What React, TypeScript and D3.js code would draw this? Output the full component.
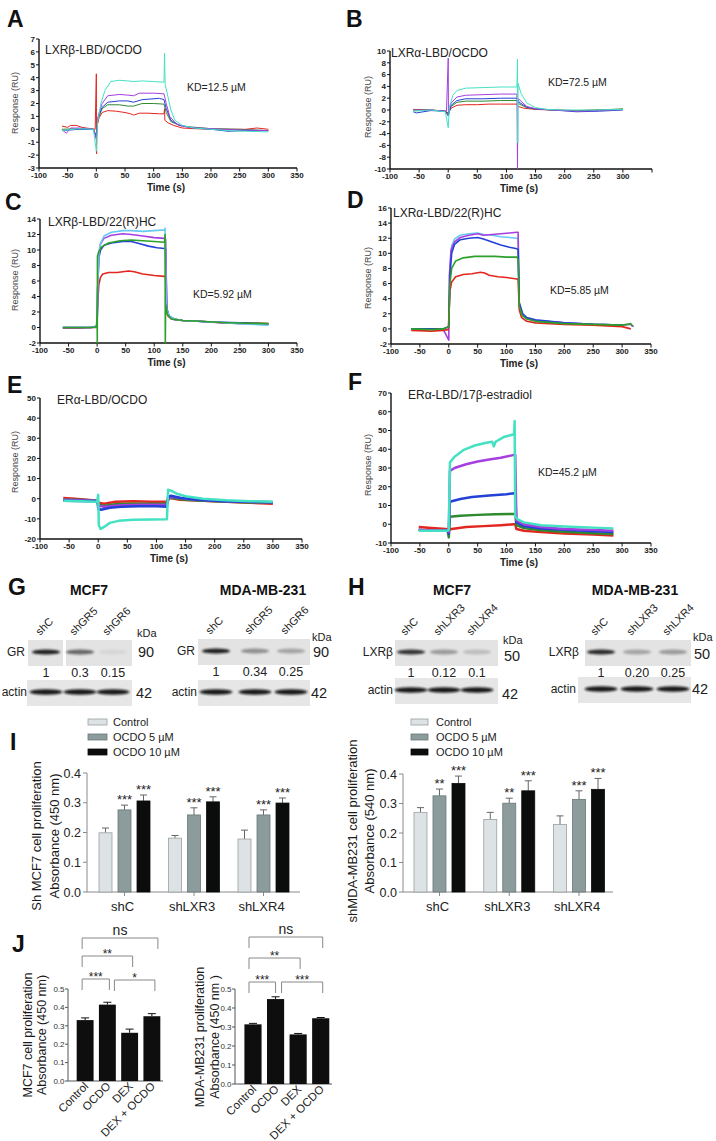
import React from 'react';
import * as d3 from 'd3';

type Pt = [number, number];

// ---------------- SPR sensorgram data (time s, response RU) ----------------
const TIME_TICKS = [-100, -50, 0, 50, 100, 150, 200, 250, 300, 350];

const A_RED: Pt[] = [[-60,0.25],[-50,0.15],[-45,0.3],[-35,0.3],[-25,0.15],[-10,0.05],[-2,0],[0,4.3],[0.4,-1.9],[1,0.3],[5,0.9],[10,1.3],[20,1.45],[35,1.4],[50,1.3],[60,1.2],[65,1.1],[75,1.25],[90,1.25],[110,1.2],[118,1.2],[119,1.6],[119.5,0.7],[125,0.5],[135,0.3],[150,0.1],[170,0.05],[200,0],[230,0],[260,0],[280,0.1],[300,0]];
const A_GREEN: Pt[] = [[-60,0],[-30,0.05],[-5,0],[0,-0.5],[3,0.8],[10,1.6],[20,1.9],[40,1.9],[55,1.8],[65,1.8],[80,2.0],[100,2.0],[118,1.95],[122,1.3],[130,0.6],[145,0.3],[160,0.2],[200,0.05],[250,0],[300,-0.1]];
const A_BLUE: Pt[] = [[-60,-0.1],[-30,0],[-5,0],[0,-0.6],[3,0.9],[10,1.7],[20,2.1],[40,2.2],[55,2.2],[65,2.1],[80,2.3],[110,2.4],[118,2.3],[122,1.6],[130,0.7],[145,0.3],[170,0.1],[200,0],[230,-0.15],[260,-0.1],[300,-0.1]];
const A_PURPLE: Pt[] = [[-60,-0.05],[-52,-0.3],[-45,0.1],[-30,0.1],[-5,0],[0,-0.8],[3,1.0],[10,2.0],[20,2.6],[40,2.7],[55,2.65],[65,2.6],[75,2.8],[100,2.8],[118,2.75],[122,2.0],[128,1.0],[140,0.4],[160,0.15],[200,0.05],[250,-0.05],[300,-0.1]];
const A_CYAN: Pt[] = [[-60,-0.1],[-30,0.05],[-5,0],[0,-1.7],[2,0.5],[8,2.0],[15,3.0],[25,3.7],[40,3.8],[55,3.75],[65,3.7],[80,3.75],[100,3.7],[118,3.65],[119,5.9],[120,3.5],[125,2.5],[130,1.5],[137,0.7],[150,0.3],[170,0.1],[200,0],[230,-0.1],[260,-0.15],[300,-0.2]];

const B_RED: Pt[] = [[-60,0.1],[-30,0],[-5,-0.2],[0,-0.5],[5,0.3],[15,0.8],[30,0.9],[50,0.9],[70,1.0],[90,1.0],[118,1.0],[120,0.6],[130,0.3],[150,0.1],[180,0],[220,-0.1],[260,0],[300,0.1]];
const B_GREEN: Pt[] = [[-60,0],[-30,0],[-5,-0.2],[0,-0.8],[5,0.6],[15,1.3],[30,1.5],[60,1.5],[90,1.6],[118,1.6],[122,1.0],[135,0.4],[150,0.15],[180,0],[220,-0.1],[260,0],[300,0.2]];
const B_BLUE: Pt[] = [[-60,-0.3],[-55,-0.5],[-30,-0.1],[-5,-0.2],[0,-1.0],[5,0.8],[15,1.6],[30,1.9],[60,1.9],[90,2.0],[118,2.0],[122,1.3],[135,0.5],[150,0.2],[180,0],[220,-0.3],[260,-0.2],[300,0]];
const B_PURPLE: Pt[] = [[-60,0],[-30,0],[-3,-0.2],[0,8.8],[0.4,-0.5],[5,1.2],[15,2.2],[30,2.5],[60,2.6],[90,2.7],[118,2.7],[119,-10],[119.6,2.0],[125,1.5],[135,0.6],[150,0.2],[180,0],[220,-0.2],[260,-0.1],[300,0.1]];
const B_CYAN: Pt[] = [[-60,-0.2],[-30,0],[-5,-0.3],[0,-3.0],[2,0.5],[8,2.5],[15,3.3],[30,3.7],[60,3.8],[90,3.9],[118,3.9],[119,8.6],[119.4,-5.6],[120,4.5],[125,2.8],[135,1.2],[150,0.4],[170,0.1],[200,0],[250,0],[300,0.1]];

const C_RED: Pt[] = [[-60,-0.1],[-30,-0.1],[-10,0],[-1,0],[1,3],[3,5.5],[6,6.5],[10,6.9],[20,7.1],[35,7.1],[55,7.3],[65,7.2],[80,6.9],[100,6.7],[118,6.6],[120,6.5],[121,2.5],[124,1.5],[130,1.1],[150,0.9],[180,0.8],[220,0.6],[260,0.6],[300,0.5]];
const C_BLUE: Pt[] = [[-60,0],[-10,0],[0,0.2],[1,5],[3,9],[6,10],[12,10.6],[25,10.9],[45,11.1],[60,11.1],[75,10.8],[90,10.5],[105,10.3],[118,10.2],[120,10.1],[122,2.5],[126,1.5],[135,1.1],[150,0.9],[200,0.7],[250,0.6],[300,0.45]];
const C_PURPLE: Pt[] = [[-60,0],[-10,0],[0,0.2],[1,5],[3,9.5],[6,10.8],[12,11.5],[25,11.9],[45,12.1],[60,12.0],[80,11.8],[100,11.6],[118,11.5],[120,11.4],[122,2.3],[126,1.4],[135,1.0],[150,0.9],[200,0.7],[250,0.5],[300,0.4]];
const C_SKY: Pt[] = [[-60,0],[-10,0],[0,0.2],[1,5],[3,9.5],[6,10.8],[12,11.8],[25,12.3],[45,12.5],[60,12.5],[80,12.4],[100,12.5],[118,12.6],[119,12.8],[121,2.5],[126,1.5],[135,1.1],[150,0.9],[200,0.7],[250,0.5],[300,0.3]];
const C_GREEN: Pt[] = [[-60,0],[-30,0],[-10,0],[-1,0.1],[0,1.8],[0.3,-2],[0.6,9.2],[3,9.8],[8,10.4],[20,10.9],[40,11.2],[60,11.3],[80,11.2],[100,11.1],[118,11.0],[119,12.0],[119.4,-2],[120,3],[123,1.7],[130,1.1],[150,0.9],[180,0.8],[220,0.65],[260,0.55],[300,0.5]];

const D_RED: Pt[] = [[-65,-0.2],[-30,-0.3],[-10,-0.2],[-1,-0.1],[0,1.2],[2,5],[5,6.2],[12,6.9],[25,7.2],[40,7.3],[55,7.5],[62,7.4],[70,7.1],[85,6.9],[100,6.8],[118,6.6],[120,6.5],[122,2.5],[126,1.5],[135,1.0],[150,0.8],[200,0.6],[250,0.5],[300,0.3],[310,0.1],[315,0]];
const D_SKY: Pt[] = [[-65,0],[-10,0],[0,0.3],[2,8],[5,11],[10,11.9],[20,12.4],[35,12.6],[50,12.7],[60,12.5],[75,12.4],[90,12.2],[105,12.1],[118,12.0],[120,11.9],[122,3],[128,1.9],[135,1.4],[150,1.1],[200,0.8],[250,0.6],[300,0.5]];
const D_BLUE: Pt[] = [[-65,0],[-10,0],[0,0.3],[2,7],[5,10],[10,11.2],[20,11.8],[35,12.0],[50,12.1],[60,11.9],[75,11.5],[90,11.1],[105,10.8],[118,10.6],[120,10.5],[122,3.5],[128,2.0],[135,1.5],[150,1.2],[200,0.8],[250,0.6],[300,0.5]];
const D_PURPLE: Pt[] = [[-65,0],[-10,0],[0,-1.5],[1,7],[4,10.5],[10,11.5],[20,12.1],[35,12.4],[50,12.6],[60,12.4],[75,12.5],[90,12.6],[105,12.7],[118,12.8],[120,12.8],[122,3],[128,1.8],[135,1.4],[150,1.1],[200,0.8],[250,0.6],[300,0.5],[310,0.6],[315,0.6],[320,0.3]];
const D_GREEN: Pt[] = [[-65,0],[-30,-0.1],[-10,0],[0,0.3],[2,6],[5,8],[12,9.0],[25,9.4],[45,9.6],[60,9.6],[80,9.6],[100,9.5],[118,9.5],[120,9.2],[122,3],[127,1.8],[135,1.3],[150,1.0],[200,0.7],[250,0.6],[300,0.5],[310,0.6],[315,0.7],[318,0.3]];

const E_RED: Pt[] = [[-60,0.3],[-40,0],[-20,-0.5],[-1,-1],[0,-2],[10,-2.5],[30,-1.5],[60,-1.3],[90,-1.5],[118,-1.5],[120,-1],[122,0.5],[140,-0.5],[180,-1],[220,-1.5],[260,-2],[300,-2.5]];
const E_GREEN: Pt[] = [[-60,-0.5],[-30,-0.5],[-1,-1],[0,-3],[10,-3.5],[30,-2.8],[60,-2.5],[118,-2.5],[120,0],[125,0.5],[150,-0.5],[200,-1.3],[250,-1.8],[300,-2]];
const E_PURPLE: Pt[] = [[-60,-0.5],[-1,-1],[0,-3.5],[10,-4],[40,-3.2],[80,-3],[118,-3],[120,0],[125,1],[150,0],[200,-1],[250,-1.5],[300,-1.8]];
const E_BLUE: Pt[] = [[-60,-1],[-1,-1.2],[0,-5],[5,-5.5],[20,-4.5],[40,-4],[70,-3.8],[100,-3.8],[118,-4],[120,1],[125,1.5],[140,0.5],[170,-0.5],[220,-1.2],[300,-1.8]];
const E_CYAN: Pt[] = [[-60,-1],[-30,-1.2],[-2,-1.5],[0,2],[1,-13],[4,-15],[10,-14],[20,-12],[35,-11],[60,-10.5],[90,-10.3],[118,-10.2],[120,4.5],[125,4],[135,2.5],[150,1.2],[180,0],[220,-0.8],[260,-1.2],[300,-1.5]];

const F_RED: Pt[] = [[-52,-1.5],[-30,-2],[-5,-2.5],[0,-3],[5,-2.5],[30,-1.5],[60,-1],[90,-0.5],[113,0],[115,0],[117,-2.5],[130,-3.5],[160,-4.2],[200,-5],[250,-5.5],[285,-6]];
const F_GREEN: Pt[] = [[-52,-3],[-30,-3.5],[-2,-3.5],[0,-7],[2,4],[20,4.5],[50,5],[80,5.3],[113,5.5],[115,5.5],[117,-0.5],[130,-2],[160,-3.2],[200,-4],[250,-4.8],[285,-5.2]];
const F_BLUE: Pt[] = [[-52,-3],[-30,-3.5],[-2,-3.5],[0,-5],[2,12],[20,13.5],[40,14.5],[70,15.3],[100,16],[113,16.5],[115,16.5],[117,1],[130,-1],[160,-2.3],[200,-3],[250,-3.8],[285,-4.2]];
const F_PURPLE: Pt[] = [[-52,-3],[-2,-3.5],[0,-4],[2,28.5],[10,30],[30,32],[50,33.5],[70,34.5],[90,35.5],[113,37],[115,37],[117,2],[130,0],[160,-1.5],[200,-2.5],[250,-3],[285,-3.5]];
const F_CYAN: Pt[] = [[-52,-3.5],[-30,-3.5],[-2,-3.5],[0,-3],[2,33],[10,36],[25,39.5],[45,42],[65,43.5],[75,44],[78,41.5],[81,44],[95,46.5],[113,48],[114,55],[115,4],[120,2.5],[130,1],[160,-0.5],[200,-1.2],[250,-1.8],[285,-2.2]];

// ---------------- Western blot data ----------------
const G_LANES = ['shC', 'shGR5', 'shGR6'];
const H_LANES = ['shC', 'shLXR3', 'shLXR4'];
const G_MCF7_GR = ['1', '0.3', '0.15'];
const G_MCF7_GR_BAND = [0.95, 0.6, 0.06];
const G_MDA_GR = ['1', '0.34', '0.25'];
const G_MDA_GR_BAND = [0.95, 0.4, 0.3];
const H_MCF7_LXR = ['1', '0.12', '0.1'];
const H_MCF7_LXR_BAND = [0.85, 0.35, 0.18];
const H_MDA_LXR = ['1', '0.20', '0.25'];
const H_MDA_LXR_BAND = [0.9, 0.3, 0.35];
const ACTIN_BAND = [0.95, 0.95, 0.95];

// ---------------- Proliferation bar data ----------------
const I_GROUPS = ['shC', 'shLXR3', 'shLXR4'];
const I_SERIES = ['Control', 'OCDO 5 µM', 'OCDO 10 µM'];
const I_MCF7_CONTROL = [0.199, 0.181, 0.178];
const I_MCF7_CONTROL_ERR = [0.016, 0.009, 0.030];
const I_MCF7_OCDO5 = [0.276, 0.259, 0.259];
const I_MCF7_OCDO5_ERR = [0.016, 0.024, 0.017];
const I_MCF7_OCDO10 = [0.306, 0.303, 0.299];
const I_MCF7_OCDO10_ERR = [0.020, 0.017, 0.017];
const I_MCF7_STARS5 = ['***', '***', '***'];
const I_MCF7_STARS10 = ['***', '***', '***'];
const I_MDA_CONTROL = [0.270, 0.246, 0.229];
const I_MDA_CONTROL_ERR = [0.016, 0.024, 0.029];
const I_MDA_OCDO5 = [0.326, 0.301, 0.314];
const I_MDA_OCDO5_ERR = [0.023, 0.017, 0.029];
const I_MDA_OCDO10 = [0.368, 0.343, 0.348];
const I_MDA_OCDO10_ERR = [0.025, 0.034, 0.037];
const I_MDA_STARS5 = ['**', '**', '***'];
const I_MDA_STARS10 = ['***', '***', '***'];
const I_TICKS = [0, 0.1, 0.2, 0.3, 0.4];

const J_GROUPS = ['Control', 'OCDO', 'DEX', 'DEX + OCDO'];
const J_MCF7 = [0.331, 0.415, 0.262, 0.352];
const J_MCF7_ERR = [0.012, 0.013, 0.020, 0.014];
const J_MDA = [0.314, 0.447, 0.261, 0.346];
const J_MDA_ERR = [0.005, 0.012, 0.005, 0.004];
const J_PAIRS: [number, number][] = [[0, 3], [0, 2], [0, 1], [1, 3]];
const J_MCF7_SIG = ['ns', '**', '***', '*'];
const J_MDA_SIG = ['ns', '**', '***', '***'];
const J_TICKS = [0, 0.1, 0.2, 0.3, 0.4, 0.5];

// ---------------- styling ----------------
const FONT = "'Liberation Sans', Arial, Helvetica, sans-serif";
const COL = {
  red: '#e3261f', green: '#2e8a2e', brightGreen: '#2ba12b', blue: '#2341d6', purple: '#a63fe0',
  cyan: '#44e2c2', sky: '#68c9f1',
};

interface Series { data: Pt[]; color: string; }
interface SprCfg {
  letter: string; lx: number; ly: number;
  x0: number; x1: number; yTop: number; yBottom: number; yMin: number; yMax: number;
  yTicks: number[]; xLabels: number[]; minor: boolean;
  title: string; tx: number; ty: number;
  kd?: string; kx?: number; ky?: number;
  rx: number; ry: number; sw: number; series: Series[];
}

function SprPanel({ c }: { c: SprCfg }) {
  const x = d3.scaleLinear().domain([-100, 350]).range([c.x0, c.x1]);
  const y = d3.scaleLinear().domain([c.yMin, c.yMax]).range([c.yBottom, c.yTop]);
  const line = d3.line<Pt>().x(d => x(d[0])).y(d => y(d[1]));
  const minorTicks = c.minor ? d3.range(-100, 351, 10) : [];
  return (
    <g fontFamily={FONT}>
      <text x={c.lx} y={c.ly} fontSize={23} fontWeight="bold" fill="#111">{c.letter}</text>
      <text x={c.tx} y={c.ty} fontSize={12} fill="#222">{c.title}</text>
      {c.kd && <text x={c.kx} y={c.ky} fontSize={10.5} fill="#222">{c.kd}</text>}
      <text transform={`translate(${c.rx},${c.ry}) rotate(-90)`} textAnchor="middle" fontSize={9} fill="#444">Response (RU)</text>
      <text x={(c.x0 + c.x1) / 2 - 2} y={c.yBottom + 23} textAnchor="middle" fontSize={10} fontWeight="bold" fill="#222">Time (s)</text>
      <line x1={c.x0} x2={c.x1} y1={c.yBottom} y2={c.yBottom} stroke="#111" strokeWidth={1.4} />
      <line x1={c.x0} x2={c.x0} y1={c.yTop} y2={c.yBottom} stroke="#111" strokeWidth={1.4} />
      {minorTicks.map(t => (
        <line key={'m' + t} x1={x(t)} x2={x(t)} y1={c.yBottom} y2={c.yBottom + 2} stroke="#111" strokeWidth={0.8} />
      ))}
      {TIME_TICKS.map(t => (
        <line key={'t' + t} x1={x(t)} x2={x(t)} y1={c.yBottom} y2={c.yBottom + 3.5} stroke="#111" strokeWidth={1} />
      ))}
      {c.xLabels.map(t => (
        <text key={'l' + t} x={x(t)} y={c.yBottom + 10} textAnchor="middle" fontSize={8} fontWeight="bold" fill="#222">{t}</text>
      ))}
      {c.yTicks.map(t => (
        <g key={'y' + t}>
          <line x1={c.x0 - 3} x2={c.x0} y1={y(t)} y2={y(t)} stroke="#111" strokeWidth={1} />
          <text x={c.x0 - 4} y={y(t)} dy="0.35em" textAnchor="end" fontSize={8} fontWeight="bold" fill="#222">{t}</text>
        </g>
      ))}
      {c.series.map((s, i) => (
        <path key={i} d={line(s.data) || ''} fill="none" stroke={s.color} strokeWidth={c.sw} strokeLinejoin="round" />
      ))}
    </g>
  );
}

const SPR_PANELS: SprCfg[] = [
  { letter: 'A', lx: 7, ly: 27, x0: 39, x1: 297, yTop: 39, yBottom: 168, yMin: -3, yMax: 7,
    yTicks: d3.range(-3, 8, 1), xLabels: TIME_TICKS, minor: false,
    title: 'LXRβ-LBD/OCDO', tx: 45, ty: 54, kd: 'KD=12.5 µM', kx: 187, ky: 91, rx: 18, ry: 103, sw: 1,
    series: [{ data: A_RED, color: COL.red }, { data: A_GREEN, color: COL.green }, { data: A_BLUE, color: COL.blue }, { data: A_PURPLE, color: COL.purple }, { data: A_CYAN, color: COL.cyan }] },
  { letter: 'B', lx: 346, ly: 27, x0: 390, x1: 652, yTop: 51, yBottom: 169, yMin: -10, yMax: 10,
    yTicks: d3.range(-10, 11, 2), xLabels: TIME_TICKS.slice(0, 9), minor: false,
    title: 'LXRα-LBD/OCDO', tx: 391, ty: 57, kd: 'KD=72.5 µM', kx: 548, ky: 86, rx: 371, ry: 107, sw: 1,
    series: [{ data: B_RED, color: COL.red }, { data: B_GREEN, color: COL.green }, { data: B_BLUE, color: COL.blue }, { data: B_PURPLE, color: COL.purple }, { data: B_CYAN, color: COL.cyan }] },
  { letter: 'C', lx: 5, ly: 210, x0: 40, x1: 297, yTop: 219, yBottom: 343, yMin: -2, yMax: 14,
    yTicks: d3.range(-2, 15, 2), xLabels: TIME_TICKS, minor: false,
    title: 'LXRβ-LBD/22(R)HC', tx: 48, ty: 226, kd: 'KD=5.92 µM', kx: 193, ky: 298, rx: 18, ry: 280, sw: 1.6,
    series: [{ data: C_RED, color: COL.red }, { data: C_BLUE, color: COL.blue }, { data: C_PURPLE, color: COL.purple }, { data: C_SKY, color: COL.sky }, { data: C_GREEN, color: COL.brightGreen }] },
  { letter: 'D', lx: 347, ly: 208, x0: 391, x1: 651, yTop: 208, yBottom: 344, yMin: -2, yMax: 16,
    yTicks: d3.range(-2, 17, 2), xLabels: TIME_TICKS, minor: false,
    title: 'LXRα-LBD/22(R)HC', tx: 393, ty: 217, kd: 'KD=5.85 µM', kx: 550, ky: 294, rx: 371, ry: 278, sw: 1.6,
    series: [{ data: D_SKY, color: COL.sky }, { data: D_PURPLE, color: COL.purple }, { data: D_BLUE, color: COL.blue }, { data: D_RED, color: COL.red }, { data: D_GREEN, color: COL.brightGreen }] },
  { letter: 'E', lx: 7, ly: 393, x0: 40, x1: 302, yTop: 398, yBottom: 539, yMin: -20, yMax: 50,
    yTicks: d3.range(-20, 51, 10), xLabels: TIME_TICKS, minor: false,
    title: 'ERα-LBD/OCDO', tx: 57, ty: 404, rx: 18, ry: 462, sw: 2.5,
    series: [{ data: E_RED, color: COL.red }, { data: E_GREEN, color: COL.green }, { data: E_PURPLE, color: COL.purple }, { data: E_BLUE, color: COL.blue }, { data: E_CYAN, color: COL.cyan }] },
  { letter: 'F', lx: 348, ly: 390, x0: 391, x1: 651, yTop: 393, yBottom: 543, yMin: -10, yMax: 70,
    yTicks: d3.range(-10, 71, 10), xLabels: TIME_TICKS, minor: false,
    title: 'ERα-LBD/17β-estradiol', tx: 408, ty: 399, kd: 'KD=45.2 µM', kx: 538, ky: 476, rx: 371, ry: 465, sw: 2.5,
    series: [{ data: F_RED, color: COL.red }, { data: F_GREEN, color: COL.green }, { data: F_BLUE, color: COL.blue }, { data: F_PURPLE, color: COL.purple }, { data: F_CYAN, color: COL.cyan }] },
];

// ---------------- Blot ----------------
interface BlotCfg {
  title: string; titleX: number; lanes: string[]; laneX: number[];
  protein: string; proteinRight: number; values: string[]; bands: number[];
  boxX: number; boxW: number; topY: number; actinX: number; actinW: number; actinY: number;
  kdaX: number; kdaY: number; mw: string; mwY: number; actinMwY: number; actinRight: number; split?: number;
}

function Blot({ b }: { b: BlotCfg }) {
  return (
    <g fontFamily={FONT}>
      <text x={b.titleX} y={595} fontSize={14} fontWeight="bold" textAnchor="middle" fill="#111">{b.title}</text>
      {b.lanes.map((l, i) => (
        <text key={l} transform={`translate(${b.laneX[i] - 6},${b.topY - 4}) rotate(-45)`} fontSize={11} fill="#222">{l}</text>
      ))}
      <rect x={b.boxX} y={b.topY} width={b.boxW} height={26} fill="#e3e3e3" />
      {b.split !== undefined && <rect x={b.split} y={b.topY} width={3} height={26} fill="#ffffff" />}
      {b.bands.map((v, i) => (
        <ellipse key={i} cx={b.laneX[i]} cy={b.topY + 12} rx={14} ry={2.6} fill="#151515" opacity={v} filter="url(#blur)" />
      ))}
      <text x={b.proteinRight} y={b.topY + 16} textAnchor="end" fontSize={12} fill="#222">{b.protein}</text>
      <text x={b.kdaX} y={b.kdaY} fontSize={11} fill="#222">kDa</text>
      <text x={b.kdaX + 1} y={b.mwY} fontSize={14.5} fill="#222">{b.mw}</text>
      {b.values.map((v, i) => (
        <text key={'v' + i} x={b.laneX[i]} y={b.topY + 37} textAnchor="middle" fontSize={12.5} fill="#222">{v}</text>
      ))}
      <rect x={b.actinX} y={b.actinY} width={b.actinW} height={26} fill="#e6e6e6" />
      {ACTIN_BAND.map((v, i) => (
        <ellipse key={'a' + i} cx={b.laneX[i]} cy={b.actinY + 12} rx={16.5} ry={2.8} fill="#111" opacity={v} filter="url(#blur)" />
      ))}
      <text x={b.actinRight} y={b.actinY + 16} textAnchor="end" fontSize={12} fill="#222">actin</text>
      <text x={b.kdaX - 1} y={b.actinMwY} fontSize={14.5} fill="#222">42</text>
    </g>
  );
}

const BLOTS: BlotCfg[] = [
  { title: 'MCF7', titleX: 89, lanes: G_LANES, laneX: [46, 80, 113], protein: 'GR', proteinRight: 25, values: G_MCF7_GR, bands: G_MCF7_GR_BAND,
    boxX: 28, boxW: 104, topY: 640, actinX: 27, actinW: 105, actinY: 680, kdaX: 137, kdaY: 637, mw: '90', mwY: 657, actinMwY: 698, actinRight: 27, split: 63 },
  { title: 'MDA-MB-231', titleX: 263, lanes: G_LANES, laneX: [216, 255, 291], protein: 'GR', proteinRight: 195, values: G_MDA_GR, bands: G_MDA_GR_BAND,
    boxX: 198, boxW: 112, topY: 639, actinX: 198, actinW: 112, actinY: 680, kdaX: 312, kdaY: 641, mw: '90', mwY: 657, actinMwY: 698, actinRight: 197 },
  { title: 'MCF7', titleX: 452, lanes: H_LANES, laneX: [411, 444, 477], protein: 'LXRβ', proteinRight: 393, values: H_MCF7_LXR, bands: H_MCF7_LXR_BAND,
    boxX: 395, boxW: 103, topY: 640, actinX: 395, actinW: 103, actinY: 678, kdaX: 503, kdaY: 644, mw: '50', mwY: 661, actinMwY: 699, actinRight: 393 },
  { title: 'MDA-MB-231', titleX: 635, lanes: H_LANES, laneX: [601, 637, 673], protein: 'LXRβ', proteinRight: 579, values: H_MDA_LXR, bands: H_MDA_LXR_BAND,
    boxX: 585, boxW: 106, topY: 640, actinX: 578, actinW: 113, actinY: 677, kdaX: 693, kdaY: 641, mw: '50', mwY: 659, actinMwY: 694, actinRight: 576 },
];

// ---------------- Grouped bars (I) ----------------
interface IBarCfg {
  axisX: number; axisRight: number; y0: number; yTop: number; bandStart: number; bandEnd: number; barHalf: number;
  values: number[][]; errs: number[][]; stars5: string[]; stars10: string[];
  legendX: number; swW: number; textX: number; lab1: string; lab2: string; lab1X: number; lab2X: number; labY: number;
}
const I_FILLS = ['#dde3e4', '#8c9c9d', '#0b0d0d'];
const I_STROKES = ['#9aa0a0', '#6a7778', '#0b0d0d'];

function GroupedBars({ c }: { c: IBarCfg }) {
  const y = d3.scaleLinear().domain([0, 0.4]).range([c.y0, c.yTop]);
  const outer = d3.scaleBand().domain(I_GROUPS).range([c.bandStart, c.bandEnd]);
  const inner = d3.scaleBand().domain(I_SERIES).range([-c.barHalf, c.barHalf]).paddingInner(0.316).paddingOuter(0.158);
  const center = (g: string) => (outer(g) || 0) + outer.bandwidth() / 2;
  return (
    <g fontFamily={FONT}>
      {I_SERIES.map((s, k) => (
        <g key={s}>
          <rect x={c.legendX} y={719 + k * 15} width={c.swW} height={6} fill={I_FILLS[k]} stroke={I_STROKES[k]} strokeWidth={0.8} />
          <text x={c.textX} y={726 + k * 15} fontSize={11} fill="#222">{s}</text>
        </g>
      ))}
      <text transform={`translate(${c.lab1X},${c.labY}) rotate(-90)`} textAnchor="middle" fontSize={13} fill="#1a1a1a">{c.lab1}</text>
      <text transform={`translate(${c.lab2X},${c.labY}) rotate(-90)`} textAnchor="middle" fontSize={13} fill="#1a1a1a">{c.lab2}</text>
      <line x1={c.axisX} x2={c.axisX} y1={c.yTop} y2={c.y0} stroke="#8a8a8a" strokeWidth={1} />
      <line x1={c.axisX} x2={c.axisRight} y1={c.y0} y2={c.y0} stroke="#8a8a8a" strokeWidth={1} />
      {I_TICKS.map(t => (
        <g key={t}>
          <line x1={c.axisX - 4} x2={c.axisX} y1={y(t)} y2={y(t)} stroke="#8a8a8a" />
          <text x={c.axisX - 6} y={y(t)} dy="0.36em" textAnchor="end" fontSize={12.5} fill="#222">{t.toFixed(1)}</text>
        </g>
      ))}
      {I_GROUPS.map((g, gi) => (
        <g key={g}>
          <line x1={center(g)} x2={center(g)} y1={c.y0} y2={c.y0 + 4} stroke="#8a8a8a" />
          <text x={center(g) - 2} y={c.y0 + 19} textAnchor="middle" fontSize={13} fill="#222">{g}</text>
          {I_SERIES.map((s, k) => {
            const bx = center(g) + (inner(s) || 0);
            const w = inner.bandwidth();
            const v = c.values[k][gi];
            const e = v + c.errs[k][gi];
            const star = k === 1 ? c.stars5[gi] : k === 2 ? c.stars10[gi] : '';
            return (
              <g key={s}>
                <line x1={bx + w / 2} x2={bx + w / 2} y1={y(v)} y2={y(e)} stroke="#666" strokeWidth={1} />
                <line x1={bx + w / 2 - 3.5} x2={bx + w / 2 + 3.5} y1={y(e)} y2={y(e)} stroke="#666" strokeWidth={1} />
                <rect x={bx} y={y(v)} width={w} height={c.y0 - y(v)} fill={I_FILLS[k]} stroke={I_STROKES[k]} strokeWidth={0.8} />
                {star && <text x={bx + w / 2} y={y(e) - 1} textAnchor="middle" fontSize={13} fill="#222">{star}</text>}
              </g>
            );
          })}
        </g>
      ))}
    </g>
  );
}

const I_PANELS: IBarCfg[] = [
  { axisX: 87, axisRight: 300, y0: 892, yTop: 773, bandStart: 89.75, bandEnd: 298.25, barHalf: 28.5,
    values: [I_MCF7_CONTROL, I_MCF7_OCDO5, I_MCF7_OCDO10], errs: [I_MCF7_CONTROL_ERR, I_MCF7_OCDO5_ERR, I_MCF7_OCDO10_ERR],
    stars5: I_MCF7_STARS5, stars10: I_MCF7_STARS10, legendX: 88, swW: 19, textX: 113,
    lab1: 'Sh MCF7 cell proliferation', lab2: 'Absorbance (450 nm)', lab1X: 41, lab2X: 59, labY: 836 },
  { axisX: 403, axisRight: 613, y0: 892, yTop: 774, bandStart: 404.6, bandEnd: 613.9, barHalf: 28.5,
    values: [I_MDA_CONTROL, I_MDA_OCDO5, I_MDA_OCDO10], errs: [I_MDA_CONTROL_ERR, I_MDA_OCDO5_ERR, I_MDA_OCDO10_ERR],
    stars5: I_MDA_STARS5, stars10: I_MDA_STARS10, legendX: 411, swW: 17, textX: 436,
    lab1: 'shMDA-MB231 cell proliferation', lab2: 'Absorbance (540 nm)', lab1X: 357, lab2X: 374, labY: 831 },
];

// ---------------- J bars ----------------
interface JCfg {
  axisX: number; axisRight: number; y0: number; y5: number; bandStart: number; bandEnd: number;
  values: number[]; errs: number[]; sig: string[]; levels: number[]; offsets: [number, number][];
  lab1: string; lab2: string; lab1X: number; lab2X: number; labY: number;
}

function JBars({ c }: { c: JCfg }) {
  const y = d3.scaleLinear().domain([0, 0.5]).range([c.y0, c.y5]);
  const x = d3.scaleBand().domain(J_GROUPS).range([c.bandStart, c.bandEnd]).paddingInner(0.24).paddingOuter(0.12);
  const cx = (i: number) => (x(J_GROUPS[i]) || 0) + x.bandwidth() / 2;
  return (
    <g fontFamily={FONT}>
      <text transform={`translate(${c.lab1X},${c.labY}) rotate(-90)`} textAnchor="middle" fontSize={12.5} fill="#1a1a1a">{c.lab1}</text>
      <text transform={`translate(${c.lab2X},${c.labY}) rotate(-90)`} textAnchor="middle" fontSize={12.5} fill="#1a1a1a">{c.lab2}</text>
      <line x1={c.axisX} x2={c.axisX} y1={c.y5} y2={c.y0} stroke="#555" strokeWidth={1} />
      <line x1={c.axisX} x2={c.axisRight} y1={c.y0} y2={c.y0} stroke="#555" strokeWidth={1} />
      {J_TICKS.map(t => (
        <g key={t}>
          <line x1={c.axisX - 3} x2={c.axisX} y1={y(t)} y2={y(t)} stroke="#555" />
          <text x={c.axisX - 3.5} y={y(t)} dy="0.35em" textAnchor="end" fontSize={8} fill="#333">{t.toFixed(1)}</text>
        </g>
      ))}
      {J_GROUPS.map((g, i) => (
        <g key={g}>
          <line x1={cx(i)} x2={cx(i)} y1={y(c.values[i])} y2={y(c.values[i] + c.errs[i])} stroke="#111" />
          <line x1={cx(i) - 4} x2={cx(i) + 4} y1={y(c.values[i] + c.errs[i])} y2={y(c.values[i] + c.errs[i])} stroke="#111" />
          <rect x={x(g)} y={y(c.values[i])} width={x.bandwidth()} height={c.y0 - y(c.values[i])} fill="#0e0e0e" />
          <text transform={`translate(${cx(i) + 4},${c.y0 + 6}) rotate(-45)`} textAnchor="end" fontSize={11.5} fill="#222">{g}</text>
        </g>
      ))}
      {J_PAIRS.map((p, k) => {
        const xa = cx(p[0]) + c.offsets[k][0];
        const xb = cx(p[1]) + c.offsets[k][1];
        const top = c.levels[k];
        const isNs = c.sig[k] === 'ns';
        return (
          <g key={k}>
            <path d={`M${xa},${top + 11}V${top}H${xb}V${top + 11}`} fill="none" stroke="#888" strokeWidth={1} />
            <text x={(xa + xb) / 2} y={isNs ? top - 3 : top + 2} textAnchor="middle" fontSize={isNs ? 14 : 12} fill="#222">{c.sig[k]}</text>
          </g>
        );
      })}
    </g>
  );
}

const J_PANELS: JCfg[] = [
  { axisX: 68, axisRight: 163, y0: 1081, y5: 989, bandStart: 74, bandEnd: 163, values: J_MCF7, errs: J_MCF7_ERR, sig: J_MCF7_SIG,
    levels: [938, 956, 979, 980], offsets: [[-3, 6], [-3, 3], [-3, 2], [7, 3]],
    lab1: 'MCF7 cell proliferation', lab2: 'Absorbance (450 nm)', lab1X: 32, lab2X: 46, labY: 1035 },
  { axisX: 235, axisRight: 332, y0: 1084, y5: 989, bandStart: 241.7, bandEnd: 332, values: J_MDA, errs: J_MDA_ERR, sig: J_MDA_SIG,
    levels: [937, 958, 982, 982], offsets: [[-4, 2], [-4, 2], [-4, 0], [6, 2]],
    lab1: 'MDA-MB231 proliferation', lab2: 'Absorbance (450 nm )', lab1X: 204, lab2X: 219, labY: 1037 },
];

export default function App() {
  return (
    <svg width={716} height={1141} viewBox="0 0 716 1141" style={{ position: 'absolute', left: 0, top: 0, background: '#fff' }}>
      <defs>
        <filter id="blur" x="-20%" y="-100%" width="140%" height="300%">
          <feGaussianBlur stdDeviation="1.3" />
        </filter>
      </defs>
      <rect width={716} height={1141} fill="#fff" />
      {SPR_PANELS.map(c => <SprPanel key={c.letter} c={c} />)}
      <g fontFamily={FONT} fontWeight="bold" fontSize={23} fill="#111">
        <text x={8} y={595}>G</text>
        <text x={348} y={595}>H</text>
        <text x={10} y={750}>I</text>
        <text x={12} y={952}>J</text>
      </g>
      {BLOTS.map((b, i) => <Blot key={i} b={b} />)}
      {I_PANELS.map((c, i) => <GroupedBars key={i} c={c} />)}
      {J_PANELS.map((c, i) => <JBars key={i} c={c} />)}
    </svg>
  );
}
